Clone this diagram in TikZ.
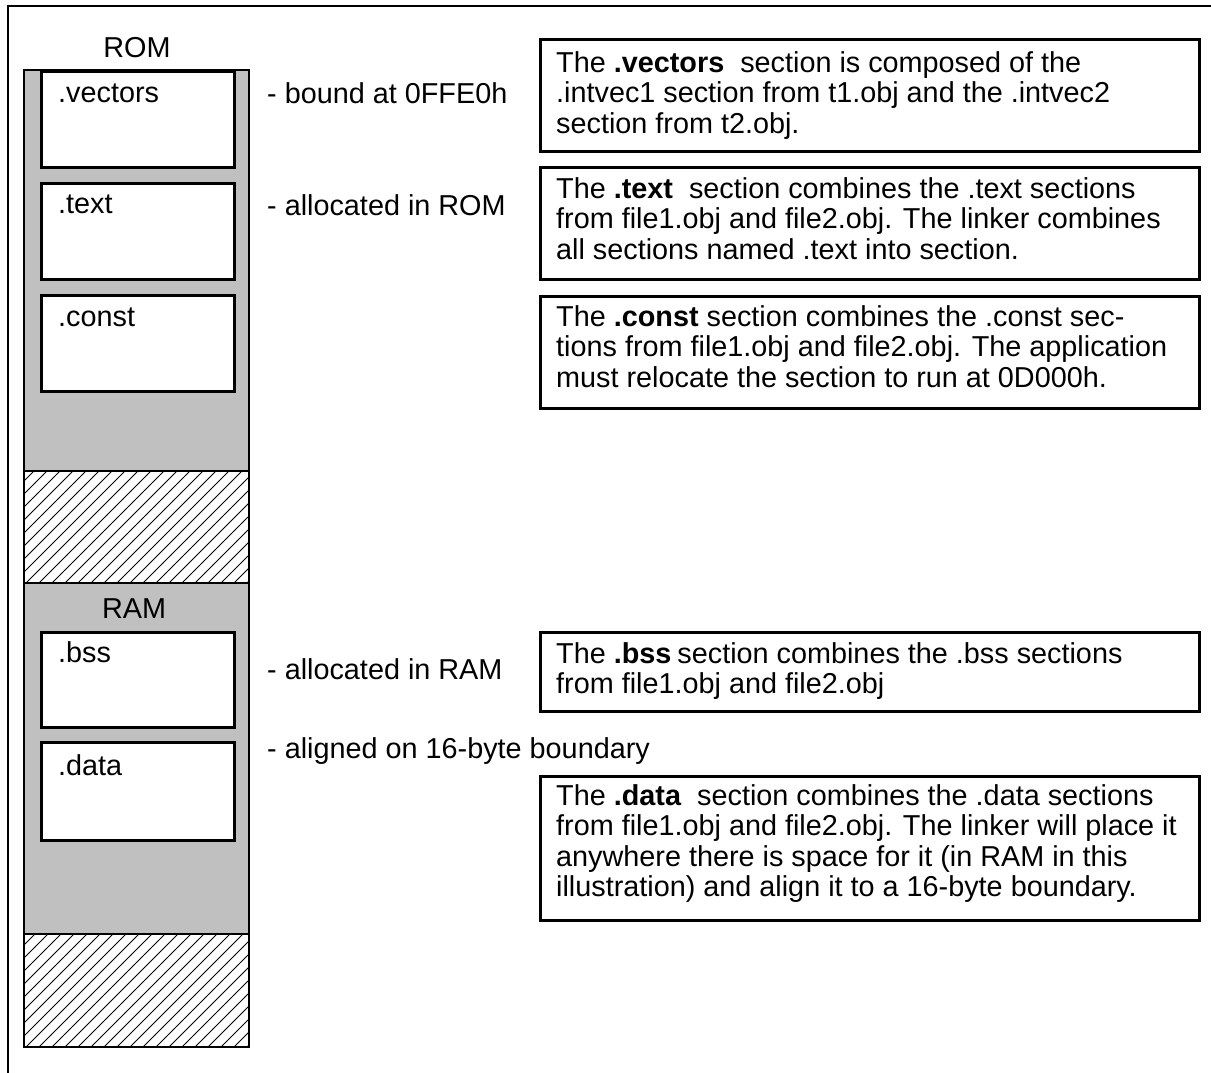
\documentclass[tikz,border=0pt]{standalone}
\usepackage{fontspec}
\setmainfont{Liberation Sans}
\definecolor{memgray}{RGB}{192,192,192}
\begin{document}
\begin{tikzpicture}[x=1pt,y=-1pt,
  frameline/.style={line width=2pt},
  colline/.style={line width=2.5pt},
  secbox/.style={draw,fill=white,line width=2.5pt,inner sep=0,minimum width=193pt,anchor=north west},
  descbox/.style={draw,line width=2.5pt,inner sep=0,minimum width=659pt,anchor=north west},
  lbl/.style={font=\fontsize{28.8}{30.5}\selectfont,inner sep=0,anchor=base west},
  ttl/.style={font=\fontsize{28.8}{30.5}\selectfont,inner sep=0,anchor=base},
  desc/.style={font=\fontsize{28.8}{30.5}\selectfont,inner sep=0,anchor=north west,align=left},
  hatchline/.style={line width=0.9pt}
]
\useasboundingbox (0,0) rectangle (1211,1072);
\clip (0,0) rectangle (1211,1072);
% outer frame (partly clipped)
\draw[frameline] (8,1090) -- (8,6) -- (1230,6);

% memory column
\fill[memgray] (24,70) rectangle (249,1047);
\fill[white] (24,471) rectangle (249,583);
\fill[white] (24,934) rectangle (249,1047);
\begin{scope}
  \clip (24,471) rectangle (249,583);
  \foreach \i in {-130,-117,...,260} \draw[hatchline] (\i,583) -- ++(130,-130);
\end{scope}
\begin{scope}
  \clip (24,934) rectangle (249,1047);
  \foreach \i in {-130,-117,...,260} \draw[hatchline] (\i,1047) -- ++(130,-130);
\end{scope}
\draw[colline] (24,70) rectangle (249,1047);
\draw[colline] (24,471) -- (249,471);
\draw[colline] (24,583) -- (249,583);
\draw[colline] (24,934) -- (249,934);

\node[ttl] (rom) at (137,57) {ROM};
\node[ttl] (ram) at (134,618) {RAM};

\node[secbox,minimum height=96pt] (vec) at (40,70) {};
\node[secbox,minimum height=96pt] (txt) at (40,182) {};
\node[secbox,minimum height=96pt] (cst) at (40,294) {};
\node[secbox,minimum height=95pt] (bss) at (40,631) {};
\node[secbox,minimum height=98pt] (dat) at (40,741) {};
\draw[colline] (24,70) -- (249,70);

\node[lbl] (lvec) at (58,102) {.vectors};
\node[lbl] (ltxt) at (58,213) {.text};
\node[lbl] (lcst) at (58,326) {.const};
\node[lbl] (lbss) at (58,662) {.bss};
\node[lbl] (ldat) at (58,775) {.data};

% notes next to column
\node[lbl] (n1) at (267,103) {- bound at 0FFE0h};
\node[lbl] (n2) at (267,215) {- allocated in ROM};
\node[lbl] (n3) at (267,679) {- allocated in RAM};
\node[lbl] (n4) at (267,758) {- aligned on 16-byte boundary};

% description boxes
\node[descbox,minimum height=112pt] (b1) at (539,38) {};
\node[descbox,minimum height=112pt] (b2) at (539,166) {};
\node[descbox,minimum height=112pt] (b3) at (539,295) {};
\node[descbox,minimum height=79pt] (b4) at (539,631) {};
\node[descbox,minimum height=144pt] (b5) at (539,775) {};

\node[desc] (d1) at (556,51) {The \textbf{.vectors}\ \ section is composed of the\\.intvec1 section from t1.obj and the .intvec2\\section from t2.obj.};
\node[desc] (d2) at (556,177) {The \textbf{.text}\ \ section combines the .text sections\\from file1.obj and file2.obj. The linker combines\\all sections named .text into section.};
\node[desc] (d3) at (556,305) {The \textbf{.const} section combines the .const sec-\\tions from file1.obj and file2.obj. The application\\must relocate the section to run at 0D000h.};
\node[desc] (d4) at (556,642) {The \textbf{.bss}\hspace{-2pt} section combines the .bss sections\\from file1.obj and file2.obj};
\node[desc] (d5) at (556,784) {The \textbf{.data}\ \ section combines the .data sections\\from file1.obj and file2.obj. The linker will place it\\anywhere there is space for it (in RAM in this\\illustration) and align it to a 16-byte boundary.};
\end{tikzpicture}
\end{document}
